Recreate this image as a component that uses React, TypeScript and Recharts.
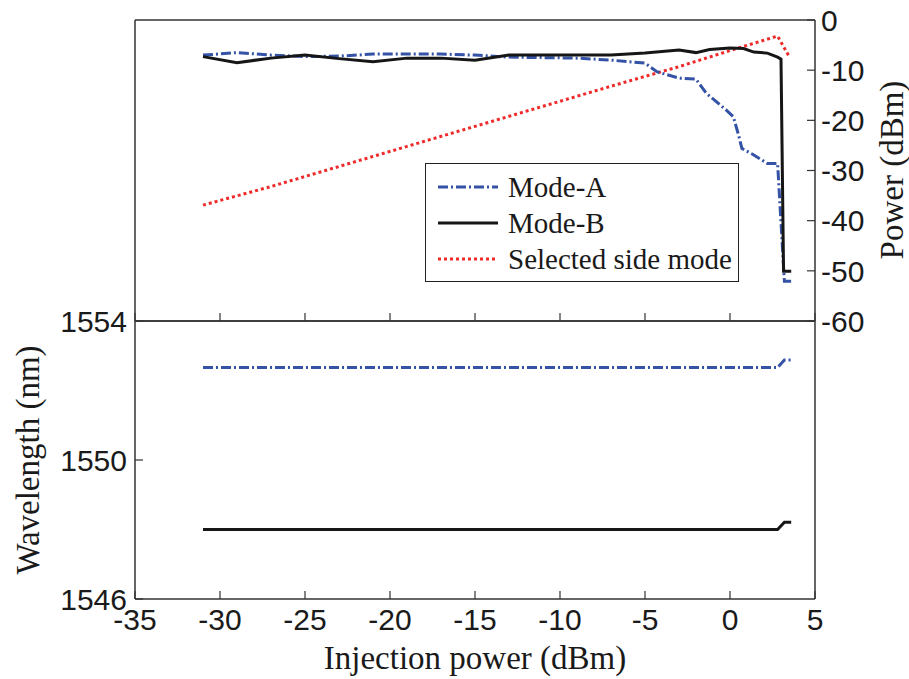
import { LineChart, Line, XAxis, YAxis, Legend } from "recharts";

// axis ticks
const xTicks = [-35, -30, -25, -20, -15, -10, -5, 0, 5];
const powerTicks = [-60, -50, -40, -30, -20, -10, 0];
const wavelengthTicks = [1546, 1550, 1554];

// top panel: output power of each mode vs injection power
const modeAPowerX = [-31, -29, -27, -25, -23, -21, -19, -17, -15, -13, -11, -9, -7, -5, -4.3, -3, -2, -1.4, -0.2, 0.2, 0.5, 0.7, 1.4, 2.2, 2.8, 3.2, 3.6];
const modeAPower = [-7.0, -6.5, -7.0, -7.3, -7.2, -6.8, -6.8, -6.8, -7.0, -7.4, -7.5, -7.6, -8.0, -8.6, -10.3, -11.6, -11.8, -14.6, -18.0, -19.3, -22.9, -25.6, -26.9, -28.6, -28.6, -52.1, -52.1];

const modeBPowerX = [-31, -29, -27, -25, -23, -21, -19, -17, -15, -13, -11, -9, -7, -5, -3, -2, -1.2, 0, 0.8, 1.4, 2.2, 2.8, 3.0, 3.15, 3.6];
const modeBPower = [-7.3, -8.5, -7.6, -7.0, -7.7, -8.3, -7.6, -7.6, -8.0, -7.0, -7.0, -7.0, -7.0, -6.6, -6.0, -6.5, -5.9, -5.6, -5.7, -6.4, -6.6, -7.4, -7.8, -50.1, -50.1];

const sideModeX = [-31, -27, -23, -19, -15, -11, -7, -3, 0, 2.8, 3.5];
const sideModePower = [-36.9, -33.2, -29.2, -25.2, -21.2, -17.2, -13.2, -9.3, -6.1, -3.2, -7.4];

// bottom panel: lasing wavelength of each mode
const wavelengthX = [-31, -25, -19, -13, -7, -1, 2.8, 3.2, 3.6];
const modeAWavelength = [1552.66, 1552.66, 1552.66, 1552.66, 1552.66, 1552.66, 1552.66, 1552.88, 1552.88];
const modeBWavelength = [1548.0, 1548.0, 1548.0, 1548.0, 1548.0, 1548.0, 1548.0, 1548.21, 1548.21];

const zip = (xs: number[], ys: number[]) => xs.map((x, i) => ({ x, y: ys[i] }));

const modeA = zip(modeAPowerX, modeAPower);
const modeB = zip(modeBPowerX, modeBPower);
const sideMode = zip(sideModeX, sideModePower);
const modeAWl = zip(wavelengthX, modeAWavelength);
const modeBWl = zip(wavelengthX, modeBWavelength);

const SANS = "'Liberation Sans', Arial, Helvetica, sans-serif";
const SERIF = "'Liberation Serif', 'Times New Roman', serif";
const AXIS = "#333";
const BLUE = "#3452a6";
const RED = "#ee2a2a";
const BLACK = "#161616";
const TICK = 8;
const W = 909;
const H = 679;

const axisLine = { stroke: AXIS, strokeWidth: 1.5 };

type Side = "top" | "bottom" | "left" | "right";

function makeTick(side: Side, showLabel: boolean) {
  return (props: any) => {
    const { x, y, payload } = props;
    let x2 = x;
    let y2 = y;
    if (side === "top") y2 = y + TICK;
    if (side === "bottom") y2 = y - TICK;
    if (side === "left") x2 = x + TICK;
    if (side === "right") x2 = x - TICK;
    let label = null;
    if (showLabel) {
      const common = { fontFamily: SANS, fontSize: 30, fill: "#1a1a1a" };
      if (side === "bottom") {
        label = (
          <text x={x} y={y + 31} textAnchor="middle" {...common}>
            {payload.value}
          </text>
        );
      } else if (side === "right") {
        label = (
          <text x={x + 6} y={y} dy="0.36em" textAnchor="start" {...common}>
            {payload.value}
          </text>
        );
      } else if (side === "left") {
        label = (
          <text x={x - 8} y={y} dy="0.36em" textAnchor="end" {...common}>
            {payload.value}
          </text>
        );
      }
    }
    return (
      <g>
        <line x1={x} y1={y} x2={x2} y2={y2} stroke={AXIS} strokeWidth={1.2} />
        {label}
      </g>
    );
  };
}

const titleStyle = { fontFamily: SERIF, fontSize: 33, fill: "#1a1a1a" };

const legendItems = [
  { name: "Mode-A", color: BLUE, dash: "10 3 2 3" },
  { name: "Mode-B", color: BLACK, dash: undefined },
  { name: "Selected side mode", color: RED, dash: "3 3" },
];

function LegendBox() {
  return (
    <div
      style={{
        width: 314,
        height: 119,
        boxSizing: "border-box",
        border: "1.5px solid #222",
        background: "#fff",
        position: "relative",
      }}
    >
      {legendItems.map((item, i) => (
        <div
          key={item.name}
          style={{
            position: "absolute",
            left: 11,
            top: 5 + i * 36,
            height: 36,
            display: "flex",
            alignItems: "center",
            whiteSpace: "nowrap",
          }}
        >
          <svg width={62} height={10} style={{ marginRight: 9 }}>
            <line x1={1} y1={5} x2={61} y2={5} stroke={item.color} strokeWidth={3} strokeDasharray={item.dash} />
          </svg>
          <span style={{ fontFamily: SERIF, fontSize: 29, color: "#1a1a1a" }}>{item.name}</span>
        </div>
      ))}
    </div>
  );
}

export default function App() {
  return (
    <div style={{ position: "absolute", left: 0, top: 0, width: W, height: H, background: "#fff" }}>
      {/* lower panel: wavelength */}
      <div style={{ position: "absolute", left: 0, top: 0 }}>
        <LineChart width={W} height={H} margin={{ top: 311, right: 0, bottom: 0, left: 0 }}>
          <XAxis
            xAxisId="b"
            type="number"
            dataKey="x"
            orientation="bottom"
            domain={[-35, 5]}
            ticks={xTicks}
            interval={0}
            height={80}
            tickSize={0}
            tickMargin={0}
            tickLine={false}
            axisLine={axisLine}
            tick={makeTick("bottom", true)}
            label={() => (
              <text x={475} y={669} textAnchor="middle" {...titleStyle}>
                Injection power (dBm)
              </text>
            )}
          />
          <XAxis
            xAxisId="t"
            type="number"
            dataKey="x"
            orientation="top"
            domain={[-35, 5]}
            ticks={xTicks}
            interval={0}
            height={10}
            tickSize={0}
            tickMargin={0}
            tickLine={false}
            axisLine={axisLine}
            tick={makeTick("top", false)}
          />
          <YAxis
            yAxisId="l"
            type="number"
            orientation="left"
            domain={[1546, 1554]}
            ticks={wavelengthTicks}
            interval={0}
            width={135}
            tickSize={0}
            tickMargin={0}
            tickLine={false}
            axisLine={axisLine}
            tick={makeTick("left", true)}
            label={() => (
              <text
                x={28}
                y={460}
                textAnchor="middle"
                dominantBaseline="central"
                transform="rotate(-90 28 460)"
                {...titleStyle}
              >
                Wavelength (nm)
              </text>
            )}
          />
          <YAxis
            yAxisId="r"
            type="number"
            orientation="right"
            domain={[1546, 1554]}
            ticks={wavelengthTicks}
            interval={0}
            width={94}
            tickSize={0}
            tickMargin={0}
            tickLine={false}
            axisLine={axisLine}
            tick={makeTick("right", false)}
          />
          <Line
            data={modeAWl}
            dataKey="y"
            xAxisId="b"
            yAxisId="l"
            type="linear"
            stroke={BLUE}
            strokeWidth={3}
            strokeDasharray="10 3 2 3"
            dot={false}
            isAnimationActive={false}
          />
          <Line
            data={modeBWl}
            dataKey="y"
            xAxisId="b"
            yAxisId="l"
            type="linear"
            stroke={BLACK}
            strokeWidth={3}
            dot={false}
            isAnimationActive={false}
          />
        </LineChart>
      </div>

      {/* upper panel: power */}
      <div style={{ position: "absolute", left: 0, top: 0 }}>
        <LineChart width={W} height={H} margin={{ top: 10, right: 0, bottom: H - 321 - 10, left: 0 }}>
          <XAxis
            xAxisId="t"
            type="number"
            dataKey="x"
            orientation="top"
            domain={[-35, 5]}
            ticks={xTicks}
            interval={0}
            height={10}
            tickSize={0}
            tickMargin={0}
            tickLine={false}
            axisLine={axisLine}
            tick={makeTick("top", false)}
          />
          <XAxis
            xAxisId="b"
            type="number"
            dataKey="x"
            orientation="bottom"
            domain={[-35, 5]}
            ticks={xTicks}
            interval={0}
            height={10}
            tickSize={0}
            tickMargin={0}
            tickLine={false}
            axisLine={axisLine}
            tick={makeTick("bottom", false)}
          />
          <YAxis
            yAxisId="l"
            type="number"
            orientation="left"
            domain={[-60, 0]}
            ticks={powerTicks}
            interval={0}
            width={135}
            tickSize={0}
            tickMargin={0}
            tickLine={false}
            axisLine={axisLine}
            tick={makeTick("left", false)}
          />
          <YAxis
            yAxisId="r"
            type="number"
            orientation="right"
            domain={[-60, 0]}
            ticks={powerTicks}
            interval={0}
            width={94}
            tickSize={0}
            tickMargin={0}
            tickLine={false}
            axisLine={axisLine}
            tick={makeTick("right", true)}
            label={() => (
              <text
                x={892}
                y={170}
                textAnchor="middle"
                dominantBaseline="central"
                transform="rotate(-90 892 170)"
                {...titleStyle}
              >
                Power (dBm)
              </text>
            )}
          />
          <Line
            data={sideMode}
            dataKey="y"
            xAxisId="b"
            yAxisId="r"
            type="linear"
            stroke={RED}
            strokeWidth={3}
            strokeDasharray="3 3"
            dot={false}
            isAnimationActive={false}
          />
          <Line
            data={modeA}
            dataKey="y"
            xAxisId="b"
            yAxisId="r"
            type="linear"
            stroke={BLUE}
            strokeWidth={3}
            strokeDasharray="10 3 2 3"
            dot={false}
            isAnimationActive={false}
          />
          <Line
            data={modeB}
            dataKey="y"
            xAxisId="b"
            yAxisId="r"
            type="linear"
            stroke={BLACK}
            strokeWidth={3}
            dot={false}
            isAnimationActive={false}
          />
          <Legend
            layout="vertical"
            align="center"
            verticalAlign="middle"
            content={() => <LegendBox />}
            wrapperStyle={{ position: "absolute", left: 425, top: 163, width: 314, height: 119 }}
          />
        </LineChart>
      </div>
    </div>
  );
}
